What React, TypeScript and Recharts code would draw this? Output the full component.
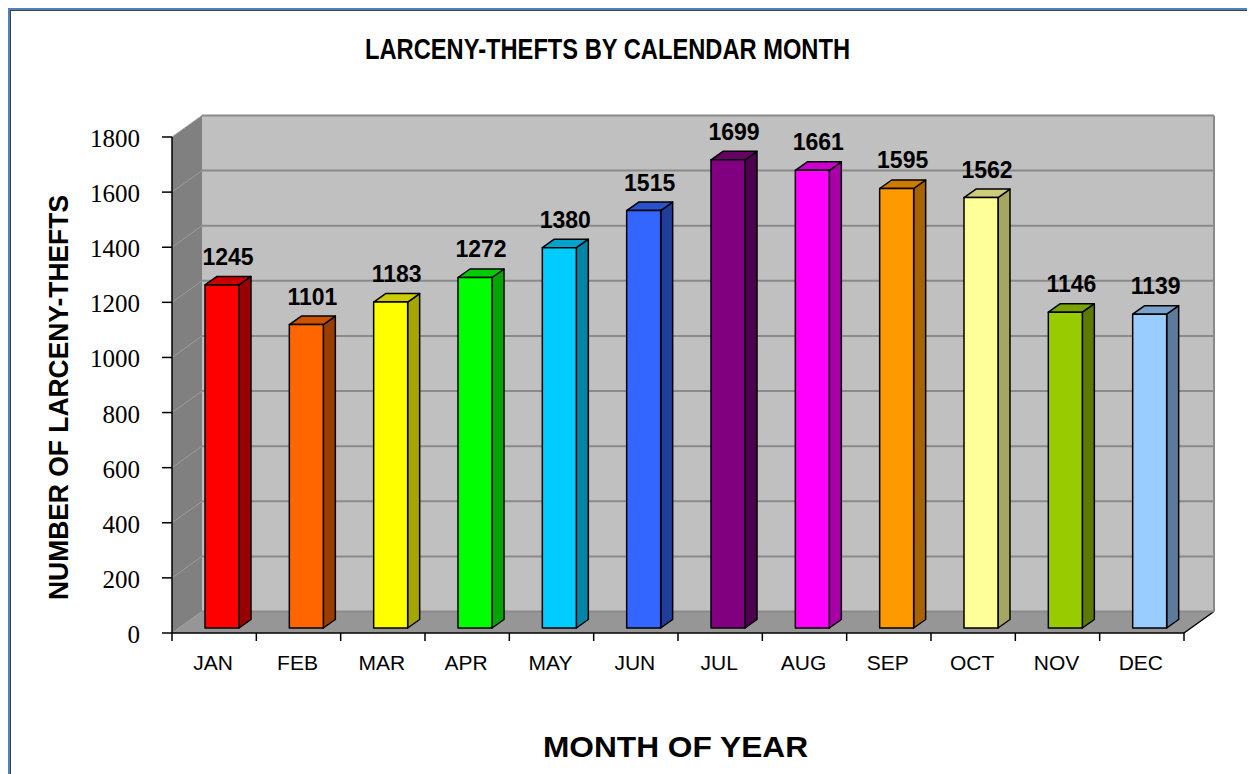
import React from 'react';
import { BarChart, Bar, XAxis, YAxis, ReferenceArea, ReferenceLine } from 'recharts';

const months = ['JAN', 'FEB', 'MAR', 'APR', 'MAY', 'JUN', 'JUL', 'AUG', 'SEP', 'OCT', 'NOV', 'DEC'];
const thefts = [1245, 1101, 1183, 1272, 1380, 1515, 1699, 1661, 1595, 1562, 1146, 1139];
const yTicks = [0, 200, 400, 600, 800, 1000, 1200, 1400, 1600, 1800];
const frontColors = ['#FF0000', '#FF6600', '#FFFF00', '#00FF00', '#00CCFF', '#3366FF', '#800080', '#FF00FF', '#FF9900', '#FFFF99', '#99CC00', '#99CCFF'];
const sideColors = ['#990000', '#993D00', '#A6A600', '#00A600', '#0085A6', '#1F3D99', '#4D004D', '#A600A6', '#A66300', '#A6A663', '#5C7A00', '#5C7A99'];
const topColors = ['#CC0000', '#CC5200', '#CCCC00', '#00CC00', '#00A3CC', '#2952CC', '#660066', '#CC00CC', '#CC7A00', '#CCCC7A', '#7AA300', '#7AA3CC'];

const data = months.map((m, i) => ({ month: m, value: thefts[i] }));

const W = 1247;
const H = 766;
const DX = 30;
const DY = -21.5;
const SX = 8;
const SY = -5;
const BDX = 12;
const BDY = -8.5;

const SANS = '"Liberation Sans", Arial, sans-serif';
const SERIF = '"Liberation Serif", "Times New Roman", "DejaVu Serif", serif';

const Walls = (props: any) => {
  const { x, y, width, height } = props;
  const L = x, R = x + width, T = y, B = y + height;
  const n = months.length;
  const ticks = [];
  for (let i = 0; i <= n; i++) {
    const tx = L + (i * width) / n;
    ticks.push(<line key={i} x1={tx} y1={B} x2={tx} y2={B + 8} stroke="#000" strokeWidth={1.5} />);
  }
  return (
    <g>
      <polygon points={`${L},${T} ${L + DX},${T + DY} ${L + DX},${B + DY} ${L},${B}`} fill="#808080" />
      <rect x={L + DX} y={T + DY} width={width} height={height} fill="#C0C0C0" />
      <polygon points={`${L},${B} ${R},${B} ${R + DX},${B + DY} ${L + DX},${B + DY}`} fill="#969696" />
      <line x1={R + DX} y1={T + DY} x2={R + DX} y2={B + DY} stroke="#8A8A8A" strokeWidth={2} />
      <line x1={R} y1={B} x2={R + DX} y2={B + DY} stroke="#000" strokeWidth={1.5} />
      {ticks}
    </g>
  );
};

const GridShape = (props: any) => {
  const { x1, y1, x2, y2 } = props;
  return (
    <g>
      <line x1={x1} y1={y1} x2={x1 + DX} y2={y1 + DY} stroke="#9C9C9C" strokeWidth={1} />
      <line x1={x1 + DX} y1={y1 + DY} x2={x2 + DX} y2={y2 + DY} stroke="#8A8A8A" strokeWidth={2} />
    </g>
  );
};

const Prism = (props: any) => {
  const { x, y, width, height, index } = props;
  const fx = x + SX;
  const fy = y + SY;
  const w = width;
  const h = height;
  return (
    <g stroke="#000" strokeWidth={1.5} strokeLinejoin="round">
      <polygon
        points={`${fx + w},${fy} ${fx + w + BDX},${fy + BDY} ${fx + w + BDX},${fy + h + BDY} ${fx + w},${fy + h}`}
        fill={sideColors[index]}
      />
      <polygon
        points={`${fx},${fy} ${fx + BDX},${fy + BDY} ${fx + w + BDX},${fy + BDY} ${fx + w},${fy}`}
        fill={topColors[index]}
      />
      <rect x={fx} y={fy} width={w} height={h} fill={frontColors[index]} />
    </g>
  );
};

const ValueLabel = (props: any) => {
  const { x, y, width, value } = props;
  return (
    <text
      x={x + SX + (width + BDX) / 2}
      y={y + SY + BDY - 11.5}
      textAnchor="middle"
      style={{ fontFamily: SANS, fontWeight: 'bold', fontSize: 23 }}
      fill="#000"
    >
      {value}
    </text>
  );
};

const YTick = (props: any) => {
  const { x, y, payload } = props;
  return (
    <text
      x={x}
      y={y + 10}
      textAnchor="end"
      fontFamily="Liberation Serif"
      fontSize={25}
      style={{ fontFamily: SERIF, fontSize: 25, fontWeight: 'normal' }}
      fill="#000"
    >
      {payload.value}
    </text>
  );
};

const XTick = (props: any) => {
  const { x, y, payload } = props;
  return (
    <text
      x={x - 1}
      y={y + 37}
      textAnchor="middle"
      style={{ fontFamily: SANS, fontSize: 21 }}
      fill="#000"
    >
      {payload.value}
    </text>
  );
};

export default function App() {
  return (
    <div style={{ position: 'relative', width: W, height: H, background: '#fff' }}>
      <BarChart
        width={W}
        height={H}
        data={data}
        margin={{ top: 129, right: 71, bottom: 101, left: 84 }}
      >
        <ReferenceArea y1={0} y2={1800} shape={Walls} ifOverflow="visible" zIndex={-300} />
        {yTicks.map((t) => (
          <ReferenceLine key={t} y={t} shape={GridShape} ifOverflow="visible" zIndex={-250} />
        ))}
        <XAxis
          dataKey="month"
          type="category"
          height={40}
          tickLine={false}
          tickSize={0}
          tickMargin={0}
          axisLine={{ stroke: '#000', strokeWidth: 1.5 }}
          tick={XTick}
          interval={0}
        />
        <YAxis
          type="number"
          domain={[0, 1800]}
          ticks={yTicks}
          interval={0}
          width={80}
          tickSize={10}
          tickMargin={22}
          axisLine={{ stroke: '#000', strokeWidth: 1.5 }}
          tickLine={{ stroke: '#000', strokeWidth: 1.5 }}
          tick={YTick}
        />
        <Bar
          dataKey="value"
          barSize={34}
          shape={Prism}
          label={ValueLabel}
          isAnimationActive={false}
        />
      </BarChart>
      <svg
        width={W}
        height={H}
        style={{ position: 'absolute', left: 0, top: 0, pointerEvents: 'none' }}
      >
        <line x1={0} y1={1} x2={W} y2={1} stroke="#4F81BD" strokeWidth={2} />
        <line x1={1} y1={0} x2={1} y2={H} stroke="#4F81BD" strokeWidth={2} />
        <line x1={2} y1={2.5} x2={W} y2={2.5} stroke="#404040" strokeWidth={1} />
        <line x1={2.5} y1={2} x2={2.5} y2={H} stroke="#404040" strokeWidth={1} />
        <text
          x={599.5}
          y={51}
          textAnchor="middle"
          textLength={485}
          lengthAdjust="spacingAndGlyphs"
          style={{ fontFamily: SANS, fontWeight: 'bold', fontSize: 29 }}
          fill="#000"
        >
          LARCENY-THEFTS BY CALENDAR MONTH
        </text>
        <text
          x={667.5}
          y={749}
          textAnchor="middle"
          textLength={265}
          lengthAdjust="spacingAndGlyphs"
          style={{ fontFamily: SANS, fontWeight: 'bold', fontSize: 30 }}
          fill="#000"
        >
          MONTH OF YEAR
        </text>
        <text
          x={60.3}
          y={389.5}
          transform="rotate(-90 60.3 389.5)"
          textAnchor="middle"
          textLength={405}
          lengthAdjust="spacingAndGlyphs"
          style={{ fontFamily: SANS, fontWeight: 'bold', fontSize: 28 }}
          fill="#000"
        >
          NUMBER OF LARCENY-THEFTS
        </text>
      </svg>
    </div>
  );
}
